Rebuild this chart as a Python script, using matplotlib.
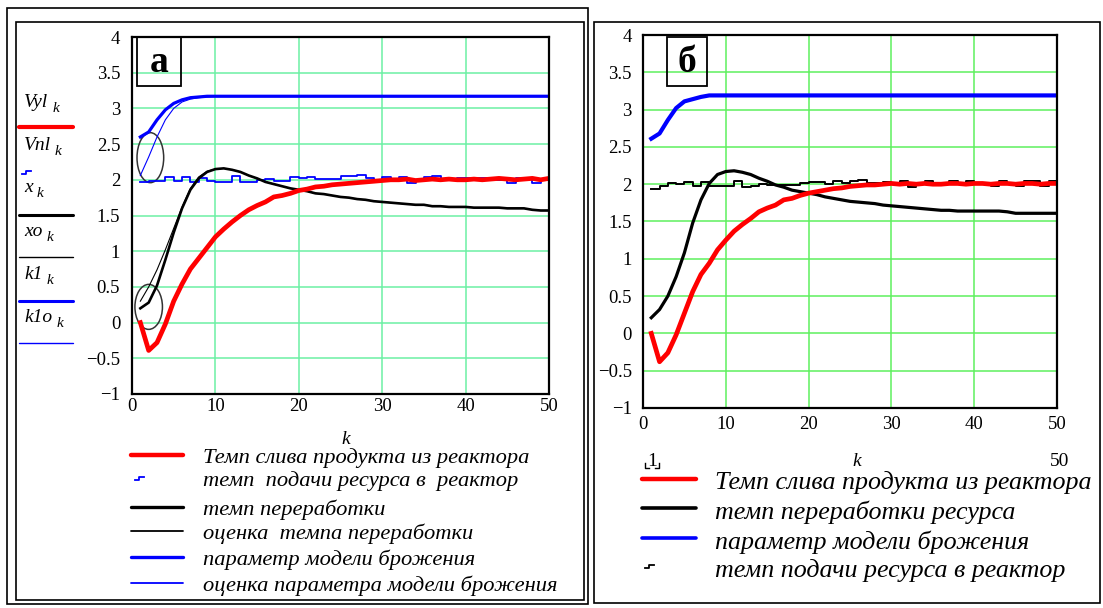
import numpy as np
import matplotlib
matplotlib.use("Agg")
import matplotlib.pyplot as plt
from matplotlib.lines import Line2D
from matplotlib.patches import Rectangle, Ellipse

plt.rcParams['font.family'] = ['Liberation Serif', 'DejaVu Serif']

W, H = 1103, 608

k = np.arange(1, 51)

# panel "а": simulation with estimates
vyl_a = [0.00, -0.39, -0.28, -0.02, 0.30, 0.54, 0.75, 0.90, 1.05, 1.20,
         1.31, 1.41, 1.50, 1.58, 1.64, 1.69, 1.76, 1.78, 1.81, 1.85,
         1.87, 1.90, 1.91, 1.93, 1.94, 1.95, 1.96, 1.97, 1.98, 1.99,
         2.00, 2.00, 2.01, 1.99, 2.00, 2.01, 2.00, 2.01, 2.00, 2.00,
         2.01, 2.00, 2.01, 2.02, 2.01, 2.00, 2.01, 2.02, 2.00, 2.02]
vnl_a = [1.97, 1.98, 1.98, 2.04, 1.99, 2.04, 1.97, 2.03, 1.98, 1.97,
         1.97, 2.05, 1.97, 1.97, 2.00, 2.01, 1.99, 1.99, 2.04, 2.02,
         2.04, 2.01, 2.01, 2.01, 2.05, 2.05, 2.07, 2.03, 2.00, 2.04,
         2.00, 2.04, 1.96, 2.00, 2.04, 2.05, 2.00, 2.00, 2.03, 2.02,
         2.02, 2.02, 2.00, 2.00, 1.96, 2.03, 2.02, 1.96, 2.00, 2.04]
x_a = [0.20, 0.28, 0.52, 0.88, 1.26, 1.60, 1.86, 2.02, 2.11, 2.15,
       2.16, 2.14, 2.11, 2.06, 2.02, 1.97, 1.94, 1.91, 1.88, 1.86,
       1.84, 1.81, 1.80, 1.78, 1.76, 1.75, 1.73, 1.72, 1.70, 1.69,
       1.68, 1.67, 1.66, 1.65, 1.65, 1.63, 1.63, 1.62, 1.62, 1.62,
       1.61, 1.61, 1.61, 1.61, 1.60, 1.60, 1.60, 1.58, 1.57, 1.57]
xo_a = [0.30, 0.50, 0.74, 1.02, 1.32, 1.62, 1.88, 2.04, 2.12, 2.15,
        2.16, 2.14, 2.11, 2.06, 2.02, 1.97, 1.94, 1.91, 1.88, 1.86,
        1.84, 1.81, 1.80, 1.78, 1.76, 1.75, 1.73, 1.72, 1.70, 1.69,
        1.68, 1.67, 1.66, 1.65, 1.65, 1.63, 1.63, 1.62, 1.62, 1.62,
        1.61, 1.61, 1.61, 1.61, 1.60, 1.60, 1.60, 1.58, 1.57, 1.57]
k1_a = [2.60, 2.67, 2.84, 2.98, 3.07, 3.12, 3.15, 3.16, 3.17] + [3.17] * 41
k1o_a = [2.06, 2.32, 2.60, 2.84, 3.00, 3.09, 3.13, 3.15, 3.16] + [3.17] * 41

# panel "б": simulation without estimates
vyl_b = [0.00, -0.38, -0.26, -0.02, 0.27, 0.56, 0.79, 0.94, 1.12, 1.25,
         1.37, 1.46, 1.54, 1.63, 1.68, 1.72, 1.79, 1.81, 1.85, 1.88,
         1.90, 1.92, 1.94, 1.95, 1.97, 1.98, 1.99, 1.99, 2.00, 2.01,
         2.00, 2.01, 2.00, 2.01, 2.00, 2.00, 2.01, 2.01, 2.00, 2.01,
         2.01, 2.00, 2.01, 2.01, 2.00, 2.01, 2.01, 2.00, 2.01, 2.01]
vnl_b = [1.94, 1.98, 2.01, 2.00, 2.03, 1.97, 2.03, 1.98, 1.97, 1.98,
         2.04, 1.96, 1.98, 2.00, 1.99, 1.99, 1.99, 1.99, 2.02, 2.03,
         2.03, 2.00, 2.04, 2.01, 2.04, 2.05, 2.02, 2.02, 2.03, 2.00,
         2.04, 1.96, 2.00, 2.04, 2.00, 2.00, 2.04, 2.00, 2.04, 2.00,
         2.00, 1.98, 2.04, 2.00, 1.98, 2.04, 2.04, 1.98, 2.04, 2.04]
x_b = [0.21, 0.32, 0.50, 0.76, 1.08, 1.48, 1.79, 2.01, 2.13, 2.17,
       2.18, 2.16, 2.13, 2.08, 2.04, 1.99, 1.96, 1.92, 1.90, 1.88,
       1.86, 1.83, 1.81, 1.79, 1.77, 1.76, 1.75, 1.74, 1.72, 1.71,
       1.70, 1.69, 1.68, 1.67, 1.66, 1.65, 1.65, 1.64, 1.64, 1.64,
       1.64, 1.64, 1.64, 1.63, 1.61, 1.61, 1.61, 1.61, 1.61, 1.61]
k1_b = [2.61, 2.68, 2.86, 3.02, 3.11, 3.14, 3.17, 3.19] + [3.19] * 42

labels_a = ["Темп слива продукта из реактора",
            "темп  подачи ресурса в  реактор",
            "темп переработки",
            "оценка  темпа переработки",
            "параметр модели брожения",
            "оценка параметра модели брожения"]
labels_b = ["Темп слива продукта из реактора",
            "темп переработки ресурса",
            "параметр модели брожения",
            "темп подачи ресурса в реактор"]
names_a = [("Vyl", "k"), ("Vnl", "k"), ("x", "k"), ("xo", "k"), ("k1", "k"), ("k1o", "k")]

fig = plt.figure(figsize=(W / 100, H / 100), dpi=100)


def fx(x):
    return x / W


def fy(y):
    return 1 - y / H


def seg(xs, ys, **kw):
    fig.add_artist(Line2D([fx(v) for v in xs], [fy(v) for v in ys],
                          transform=fig.transFigure, **kw))


def box(x0, y0, x1, y1, lw):
    fig.add_artist(Rectangle((fx(x0), fy(y1)), fx(x1) - fx(x0), fy(y0) - fy(y1),
                             transform=fig.transFigure, fill=False, lw=lw, ec='black'))


def step_icon(x, y, color):
    seg([x, x + 4, x + 4, x + 9], [y + 1.5, y + 1.5, y - 1.5, y - 1.5], color=color, lw=1.3)


def fmt(v):
    return f"{v:g}".replace('-', '\u2212')


def setup(ax, grid_color, ypad, xpad):
    ax.set_xlim(0, 50)
    ax.set_ylim(-1, 4)
    ax.set_xticks(range(0, 51, 10))
    yt = np.arange(-1, 4.01, 0.5)
    ax.set_yticks(yt)
    ax.set_yticklabels([fmt(v) for v in yt])
    ax.grid(True, color=grid_color, lw=1.1)
    ax.set_axisbelow(True)
    ax.tick_params(axis='y', length=0, labelsize=13.5, pad=ypad)
    ax.tick_params(axis='x', length=0, labelsize=13.5, pad=xpad)
    for s in ax.spines.values():
        s.set_linewidth(1.6)


# outer frames
box(7, 8, 588, 604, 1.2)
box(16, 22, 584, 600, 1.2)
box(594, 22, 1100, 603, 1.2)

# panel а
ax_a = fig.add_axes([fx(132), fy(394), fx(549) - fx(132), fy(37) - fy(394)])
setup(ax_a, '#6cf0a4', 8.5, 3)
ax_a.plot(k, vnl_a, color='#0000ff', lw=1.3, drawstyle='steps-post')
ax_a.plot(k, k1_a, color='#0000ff', lw=2.3)
ax_a.plot(k, k1o_a, color='#0000ff', lw=0.8)
ax_a.plot(k, xo_a, color='black', lw=0.8)
ax_a.plot(k, x_a, color='black', lw=1.9)
ax_a.plot(k, vyl_a, color='#ff0000', lw=3.4)
ax_a.add_patch(Ellipse((2.2, 2.31), 3.2, 0.70, fill=False, ec='#333333', lw=1.1))
ax_a.add_patch(Ellipse((2.0, 0.22), 3.3, 0.63, fill=False, ec='#333333', lw=1.1))
box(137, 37, 181, 86, 1.3)
fig.text(fx(159), fy(62), "а", fontsize=27, fontweight='bold', ha='center', va='center')

# series names on the left of panel а
name_y = [107, 150, 192, 236, 279, 322]
line_y = [127, 172, 215, 257, 301, 343]
name_styles = [('#ff0000', 3.0), ('#0000ff', None), ('black', 2.2),
               ('black', 1.0), ('#0000ff', 2.2), ('#0000ff', 1.0)]
for (nm, sub), ny, ly, (c, lw) in zip(names_a, name_y, line_y, name_styles):
    t = fig.text(fx(24), fy(ny), nm, fontsize=14, style='italic', va='baseline')
    fig.canvas.draw()
    ext = t.get_window_extent()
    fig.text(ext.x1 / W + fx(4), fy(ny + 5), sub, fontsize=11, style='italic', va='baseline')
    if lw is None:
        step_icon(22, ly, c)
    else:
        seg([19, 73], [ly, ly], color=c, lw=lw, solid_capstyle='round')

fig.text(fx(346), fy(440), "k", fontsize=14, style='italic', ha='center', va='center')
leg_a_y = [455, 478, 507, 531, 557, 583]
leg_a_style = [('#ff0000', 3.2), ('#0000ff', None), ('black', 2.4),
               ('black', 1.3), ('#0000ff', 2.4), ('#0000ff', 1.3)]
for lab, ly, (c, lw) in zip(labels_a, leg_a_y, leg_a_style):
    if lw is None:
        step_icon(135, ly, c)
    else:
        seg([131, 183], [ly, ly], color=c, lw=lw, solid_capstyle='round')
    fig.text(fx(203), fy(ly + 3), lab, fontsize=16.2, style='italic', va='center')

# panel б
ax_b = fig.add_axes([fx(643), fy(408), fx(1057) - fx(643), fy(35) - fy(408)])
setup(ax_b, '#5ef05e', 8, 5.5)
ax_b.plot(k, vnl_b, color='black', lw=1.4, drawstyle='steps-post')
ax_b.plot(k, k1_b, color='#0000ff', lw=3.0)
ax_b.plot(k, x_b, color='black', lw=2.3)
ax_b.plot(k, vyl_b, color='#ff0000', lw=3.4)
box(667, 37, 707, 86, 1.3)
fig.text(fx(687), fy(62), "б", fontsize=27, fontweight='bold', ha='center', va='center')

fig.text(fx(652), fy(462), "1", fontsize=14, ha='center', va='center')
seg([645, 645, 649], [463, 468, 468], color='black', lw=1.0)
seg([655, 659, 659], [468, 468, 463], color='black', lw=1.0)
fig.text(fx(857), fy(462), "k", fontsize=14, style='italic', ha='center', va='center')
fig.text(fx(1060), fy(462), "50", fontsize=14, ha='center', va='center')

leg_b_y = [479, 508, 538, 566]
leg_b_style = [('#ff0000', 3.2), ('black', 2.6), ('#0000ff', 2.6), ('black', None)]
for lab, ly, (c, lw) in zip(labels_b, leg_b_y, leg_b_style):
    if lw is None:
        step_icon(645, ly, c)
    else:
        seg([642, 696], [ly, ly], color=c, lw=lw, solid_capstyle='round')
    fig.text(fx(715), fy(ly + 4), lab, fontsize=18.7, style='italic', va='center')

fig.savefig("out.png", dpi=100)
